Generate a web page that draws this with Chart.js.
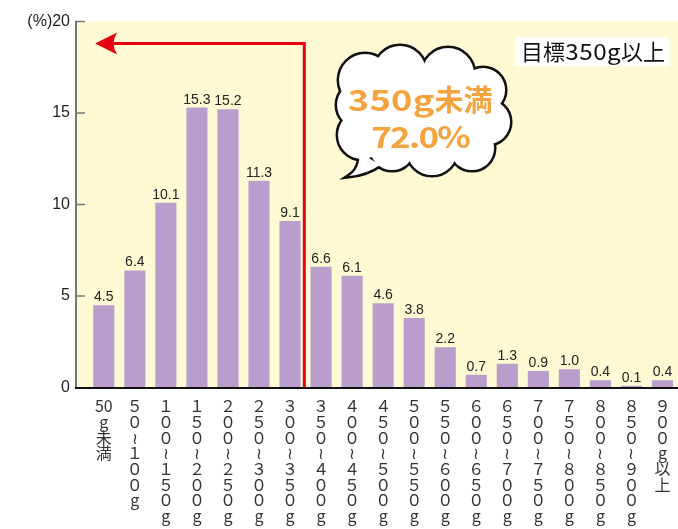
<!DOCTYPE html>
<html><head><meta charset="utf-8">
<script src="https://cdn.jsdelivr.net/npm/chart.js@4.4.1/dist/chart.umd.min.js"></script>
<style>html,body{margin:0;padding:0;background:#fff}canvas{display:block}</style>
</head><body>
<canvas id="c" width="678" height="529"></canvas>
<script>
// ---- data ----
const categories = ['50g未満','50～100g','100～150g','150～200g','200～250g','250～300g','300～350g',
  '350～400g','400～450g','450～500g','500～550g','550～600g','600～650g','650～700g',
  '700～750g','750～800g','800～850g','850～900g','900g以上'];
const values = [4.5, 6.4, 10.1, 15.3, 15.2, 11.3, 9.1, 6.6, 6.1, 4.6, 3.8, 2.2, 0.7, 1.3, 0.9, 1.0, 0.4, 0.1, 0.4];
const yTicks = [0, 5, 10, 15, 20];
const yUnit = '(%)';
const targetLabel = ['目標', '350g', '以上'];
const calloutLine1 = ['350g', '未満'];
const calloutLine2 = '72.0%';
const dividerIndex = 6.46;   // boundary between 300～350g and 350～400g
const arrowLevel = 18.8;     // y level of red arrow
const arrowTipX = -0.28;

// vertical tick labels (one character per line)
const toVertical = s => {
  if (s === '50g未満') return ['50', 'g', '未', '満'];
  return [...s].map(ch => {
    if (ch >= '0' && ch <= '9') return String.fromCharCode(ch.charCodeAt(0) + 0xFEE0);
    if (ch === '～') return '≀';
    return ch;
  });
};
const tickLabels = categories.map(toVertical);

const X_MIN = -0.928, X_MAX = 18.5;
const BAR = '#B99ECB', BG = '#FFFAD4', RED = '#E60012', ORANGE = '#F4A33E';
const CJK = '"Noto Sans CJK JP", "Noto Sans", sans-serif';
const LAT = '"Liberation Sans", Arial, sans-serif';

// draw text segments, each stretched horizontally by sx and spaced to width w
function drawSegs(ctx, segs, cx, cy) {
  const total = segs.reduce((a, s) => a + s.w, 0);
  let x = cx - total / 2;
  ctx.textAlign = 'left';
  ctx.textBaseline = 'middle';
  for (const s of segs) {
    const sx = s.sx || 1;
    ctx.letterSpacing = '0px';
    const nat = ctx.measureText(s.t).width * sx;
    const n = [...s.t].length;
    const sp = (s.w - nat) / n;
    ctx.letterSpacing = (sp / sx) + 'px';
    ctx.save();
    ctx.translate(x + sp / 2, cy);
    ctx.scale(sx, 1);
    ctx.fillText(s.t, 0, 0);
    ctx.restore();
    x += s.w;
  }
  ctx.letterSpacing = '0px';
}

const decor = {
  id: 'decor',
  beforeDraw(chart) {
    const {ctx, chartArea: a} = chart;
    ctx.save();
    ctx.fillStyle = BG;
    ctx.fillRect(a.left, a.top, a.right - a.left, a.bottom - a.top);
    ctx.restore();
  },
  afterDatasetsDraw(chart) {
    const {ctx, chartArea: a, scales: {x, y}} = chart;
    ctx.save();
    // y axis line + inward ticks
    ctx.strokeStyle = '#777';
    ctx.lineWidth = 2;
    ctx.beginPath();
    ctx.moveTo(a.left + 1, a.top);
    ctx.lineTo(a.left + 1, a.bottom);
    ctx.stroke();
    ctx.lineWidth = 1.5;
    yTicks.filter(v => v > 0).forEach(v => {
      const py = y.getPixelForValue(v);
      ctx.beginPath();
      ctx.moveTo(a.left, py);
      ctx.lineTo(a.left + 10, py);
      ctx.stroke();
    });
    // x axis line
    ctx.strokeStyle = '#111';
    ctx.lineWidth = 2;
    ctx.beginPath();
    ctx.moveTo(a.left, a.bottom + 0.5);
    ctx.lineTo(a.right, a.bottom + 0.5);
    ctx.stroke();

    // value labels
    ctx.fillStyle = '#222';
    ctx.font = '14px ' + LAT;
    ctx.textAlign = 'center';
    ctx.textBaseline = 'alphabetic';
    const meta = chart.getDatasetMeta(0);
    meta.data.forEach((bar, i) => {
      ctx.fillText(values[i].toFixed(1), bar.x, bar.y - 4);
    });

    // red arrow
    const vx = x.getPixelForValue(dividerIndex);
    const hy = y.getPixelForValue(arrowLevel);
    const tx = x.getPixelForValue(arrowTipX);
    ctx.strokeStyle = RED;
    ctx.lineWidth = 3;
    ctx.lineJoin = 'miter';
    ctx.beginPath();
    ctx.moveTo(vx, y.getPixelForValue(0));
    ctx.lineTo(vx, hy);
    ctx.lineTo(tx + 16, hy);
    ctx.stroke();
    ctx.fillStyle = RED;
    ctx.beginPath();
    ctx.moveTo(tx, hy);
    ctx.lineTo(tx + 22, hy - 11);
    ctx.quadraticCurveTo(tx + 15, hy, tx + 22, hy + 11);
    ctx.closePath();
    ctx.fill();

    // cloud callout
    const cx = x.getPixelForValue(10.35), cy = y.getPixelForValue(15.05);
    const circles = [[-60,-32,26],[-25,-40,26],[23,-38,26],[58,-22,22],[63,10,22],
      [47,36,22],[7,38,25],[-33,36,22],[-63,23,24],[-65,-7,23]];
    const tail = () => {
      ctx.beginPath();
      ctx.moveTo(cx - 66, cy + 40);
      ctx.quadraticCurveTo(cx - 64, cy + 56, cx - 76, cy + 64);
      ctx.quadraticCurveTo(cx - 58, cy + 62, cx - 45, cy + 53);
      ctx.closePath();
    };
    ctx.strokeStyle = '#111';
    ctx.lineWidth = 5;
    circles.forEach(([dx, dy, r]) => { ctx.beginPath(); ctx.arc(cx + dx, cy + dy, r, 0, Math.PI * 2); ctx.stroke(); });
    tail(); ctx.stroke();
    ctx.fillStyle = '#fff';
    circles.forEach(([dx, dy, r]) => { ctx.beginPath(); ctx.arc(cx + dx, cy + dy, r, 0, Math.PI * 2); ctx.fill(); });
    tail(); ctx.fill();
    ctx.beginPath(); ctx.ellipse(cx, cy, 70, 45, 0, 0, Math.PI * 2); ctx.fill();

    ctx.fillStyle = ORANGE;
    ctx.font = 'bold 29px ' + CJK;
    drawSegs(ctx, [{t: calloutLine1[0], w: 87, sx: 1.25}, {t: calloutLine1[1], w: 58, sx: 1.0}], cx - 5, cy - 12);
    drawSegs(ctx, [{t: calloutLine2, w: 98, sx: 1.2}], cx - 4, cy + 25);

    // target box
    const bx = a.right - 163, by = a.top + 15.5;
    ctx.fillStyle = '#fff';
    ctx.fillRect(bx, by, 154, 29);
    ctx.fillStyle = '#111';
    ctx.font = '22px ' + CJK;
    drawSegs(ctx, [{t: targetLabel[0], w: 44}, {t: targetLabel[1], w: 56, sx: 1.1}, {t: targetLabel[2], w: 44}], bx + 78, by + 15);
    ctx.restore();
  }
};

new Chart(document.getElementById('c'), {
  type: 'bar',
  data: {
    datasets: [{
      data: values.map((v, i) => ({x: i, y: v})),
      backgroundColor: BAR,
      borderWidth: 0,
      categoryPercentage: 0.8,
      barPercentage: 0.85
    }]
  },
  options: {
    responsive: false,
    animation: false,
    devicePixelRatio: 1,
    layout: {padding: {top: 21.5, right: 0, left: 0, bottom: 0}},
    plugins: {legend: {display: false}, tooltip: {enabled: false}},
    scales: {
      x: {
        type: 'linear', min: X_MIN, max: X_MAX, offset: false,
        grid: {display: false, drawTicks: false, offset: false}, border: {display: false},
        afterBuildTicks: s => { s.ticks = categories.map((_, i) => ({value: i})); },
        afterFit: s => { s.height = 141.5; s.paddingLeft = 0; s.paddingRight = 0; },
        ticks: {
          autoSkip: false, maxRotation: 0, minRotation: 0, padding: 11,
          color: '#333',
          font: {family: CJK, size: 16, lineHeight: 0.98},
          callback: (v) => tickLabels[v]
        }
      },
      y: {
        min: 0, max: 20,
        grid: {display: false, drawTicks: false}, border: {display: false},
        afterBuildTicks: s => { s.ticks = yTicks.map(v => ({value: v})); },
        afterFit: s => { s.width = 75; },
        ticks: {
          padding: 5, color: '#222',
          font: {family: LAT, size: 16},
          callback: v => v === 20 ? yUnit + '20' : String(v)
        }
      }
    }
  },
  plugins: [decor]
});
</script>
</body></html>
